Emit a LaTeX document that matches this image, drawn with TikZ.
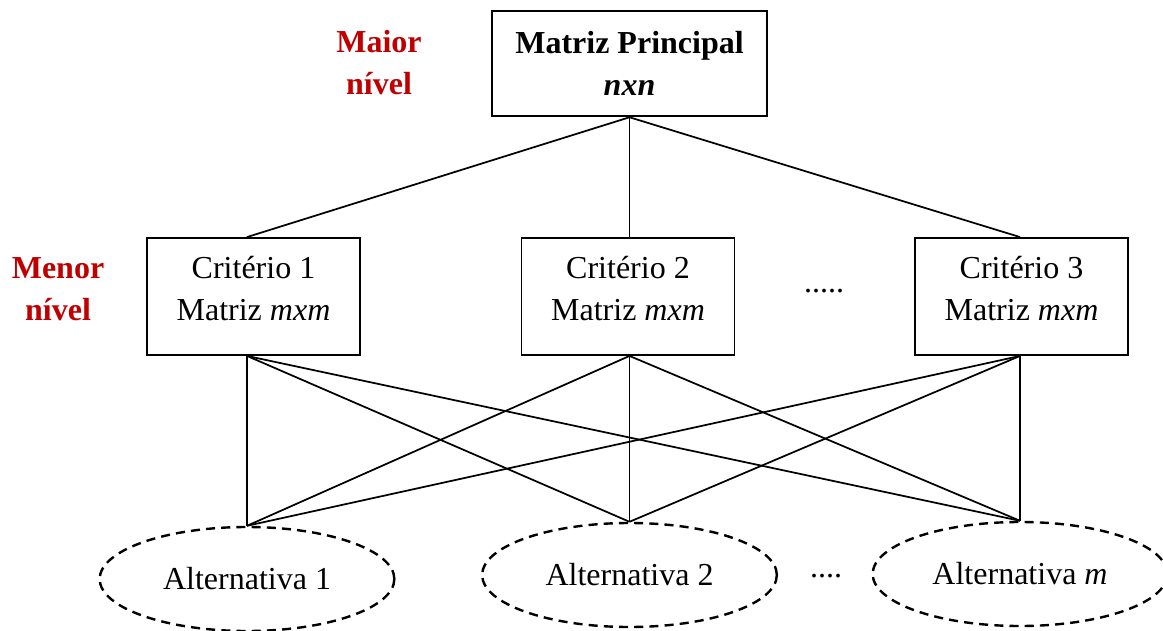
\documentclass[tikz,border=0pt]{standalone}
\usepackage{fontspec}
\setmainfont{Liberation Serif}
\usetikzlibrary{shapes.geometric}
\definecolor{levelred}{RGB}{192,0,0}
\begin{document}
\begin{tikzpicture}[x=0.75pt,y=-0.75pt,
  every node/.style={font=\fontsize{24}{31.5}\selectfont, align=center},
  mainbox/.style={draw, line width=1.9pt, minimum width=206.25pt, minimum height=78.75pt, inner sep=0pt},
  critbox/.style={draw, line width=1.4pt, minimum width=159.75pt, minimum height=87.75pt, inner sep=0pt},
  altnode/.style={draw, ellipse, dash pattern=on 6.8pt off 4.6pt, line width=1.8pt,
    minimum width=221pt, minimum height=78pt, inner sep=0pt},
  link/.style={line width=1.3pt},
  level/.style={text=levelred, font=\fontsize{24}{31.5}\selectfont\bfseries}
]
\useasboundingbox (0,0) rectangle (1163,631);

% top level
\node[mainbox, font=\fontsize{24}{31.5}\selectfont\bfseries] (top) at (629.5,63.5) {Matriz Principal\\\textit{nxn}};
\node[level] (maior) at (379,63) {Maior\\nível};

% criteria
\node[critbox] (c1) at (253.5,296.5) {};
\node[critbox] (c2) at (628,296.5) {};
\node[critbox] (c3) at (1021.5,296.5) {};
\node (c1t) at (253.5,289) {Critério 1\\Matriz \textit{mxm}};
\node (c2t) at (628,289) {Critério 2\\Matriz \textit{mxm}};
\node (c3t) at (1021.5,289) {Critério 3\\Matriz \textit{mxm}};
\node (cdots) at (824,291) {.....};
\node[level] (menor) at (58,289) {Menor\\nível};

% alternatives
\node[altnode] (a1) at (247,579) {Alternativa 1};
\node[altnode] (a2) at (629.5,575) {Alternativa 2};
\node[altnode] (a3) at (1020,574) {Alternativa \textit{m}};
\node (adots) at (826,576) {....};

% attachment points, aligned with the alternatives below
\coordinate (c1n) at (c1.north -| a1.north);
\coordinate (c2n) at (c2.north -| a2.north);
\coordinate (c3n) at (c3.north -| a3.north);
\coordinate (c1s) at (c1.south -| a1.north);
\coordinate (c2s) at (c2.south -| a2.north);
\coordinate (c3s) at (c3.south -| a3.north);

% connectors
\draw[link] (top.south) -- (c1n);
\draw[link] (top.south) -- (c2n);
\draw[link] (top.south) -- (c3n);
\foreach \c in {c1s,c2s,c3s}{
  \foreach \a in {a1,a2,a3}{
    \draw[link] (\c) -- (\a.north);
  }
}
\end{tikzpicture}
\end{document}
